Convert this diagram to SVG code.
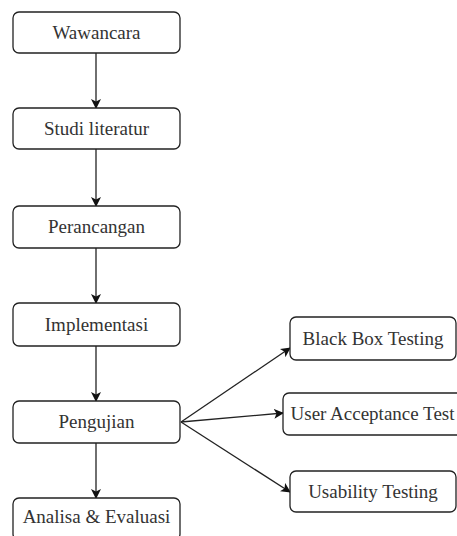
<svg xmlns="http://www.w3.org/2000/svg" width="457" height="536" viewBox="0 0 457 536">
<defs>
<style>
.box{fill:#fff;stroke:#222;stroke-width:1.3}
.lbl{font-size:19px;fill:#333;font-family:Liberation Serif, serif}
.con{stroke:#222;stroke-width:1.3;fill:none}
</style>
<marker id="ah" viewBox="0 0 10 10" refX="9" refY="5" markerWidth="10" markerHeight="10" markerUnits="userSpaceOnUse" orient="auto">
<path d="M0,0 L10,5 L0,10 L2.5,5 Z" fill="#111"/>
</marker>
</defs>
<rect width="457" height="536" fill="#fff"/>
<g id="connectors">
<line class="con" marker-end="url(#ah)" x1="96" y1="53" x2="96" y2="108"/>
<line class="con" marker-end="url(#ah)" x1="96" y1="149" x2="96" y2="206"/>
<line class="con" marker-end="url(#ah)" x1="96" y1="248" x2="96" y2="303"/>
<line class="con" marker-end="url(#ah)" x1="96" y1="346" x2="96" y2="401"/>
<line class="con" marker-end="url(#ah)" x1="96" y1="443" x2="96" y2="498"/>
<line class="con" marker-end="url(#ah)" x1="181" y1="422" x2="290" y2="348"/>
<line class="con" marker-end="url(#ah)" x1="181" y1="422" x2="283" y2="413"/>
<line class="con" marker-end="url(#ah)" x1="181" y1="422" x2="290" y2="492"/>
</g>
<g id="wawancara"><rect class="box" x="13" y="12" width="167" height="41" rx="6"/><text class="lbl" font-family="Liberation Serif" text-anchor="middle" x="96.5" y="39">Wawancara</text></g>
<g id="studi"><rect class="box" x="13" y="108" width="167" height="41" rx="6"/><text class="lbl" font-family="Liberation Serif" text-anchor="middle" x="96.5" y="135">Studi literatur</text></g>
<g id="perancangan"><rect class="box" x="13" y="206" width="167" height="42" rx="6"/><text class="lbl" font-family="Liberation Serif" text-anchor="middle" x="96.5" y="233">Perancangan</text></g>
<g id="implementasi"><rect class="box" x="13" y="303" width="167" height="43" rx="6"/><text class="lbl" font-family="Liberation Serif" text-anchor="middle" x="96.5" y="331">Implementasi</text></g>
<g id="pengujian"><rect class="box" x="13" y="401" width="167" height="42" rx="6"/><text class="lbl" font-family="Liberation Serif" text-anchor="middle" x="96.5" y="428">Pengujian</text></g>
<g id="analisa"><rect class="box" x="13" y="498" width="167" height="42" rx="6"/><text class="lbl" font-family="Liberation Serif" text-anchor="middle" x="96.5" y="523">Analisa &amp; Evaluasi</text></g>
<g id="blackbox"><rect class="box" x="290" y="317" width="166" height="43" rx="6"/><text class="lbl" font-family="Liberation Serif" text-anchor="middle" x="373" y="345">Black Box Testing</text></g>
<g id="uat"><rect class="box" x="283" y="393" width="180" height="42" rx="6"/><text class="lbl" font-family="Liberation Serif" text-anchor="middle" x="372.5" y="420">User Acceptance Test</text></g>
<g id="usability"><rect class="box" x="290" y="471" width="166" height="41" rx="6"/><text class="lbl" font-family="Liberation Serif" text-anchor="middle" x="373" y="498">Usability Testing</text></g>
</svg>
